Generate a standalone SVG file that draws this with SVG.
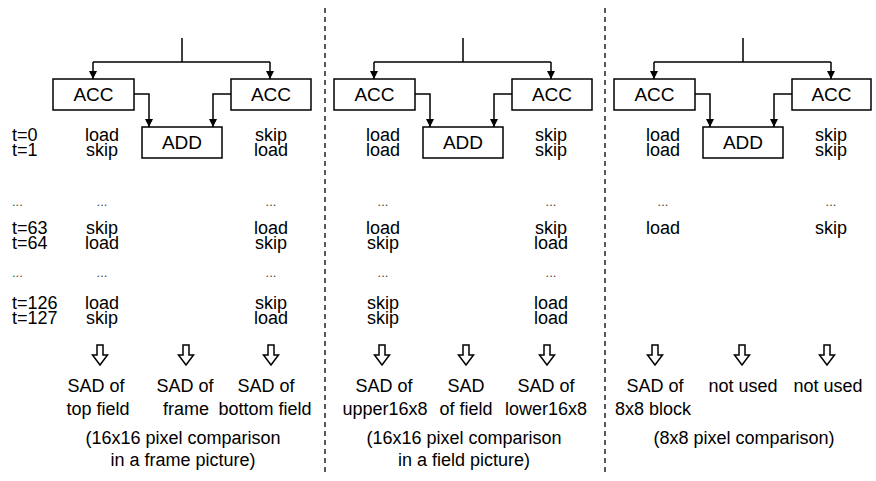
<svg xmlns="http://www.w3.org/2000/svg" width="876" height="481" viewBox="0 0 876 481">
<style>
text{font-family:"Liberation Sans",Arial,sans-serif;font-size:18px;fill:#000}
.m{text-anchor:middle}
.b{font-size:19px}
.d{font-size:13px;fill:#444}
.box rect{fill:#fff;stroke:#000;stroke-width:1.5}
.c{fill:none;stroke:#000;stroke-width:1.5}
.sep{stroke:#000;stroke-width:1.3;stroke-dasharray:5 4}
.ho{fill:#fff;stroke:#000;stroke-width:1.5;stroke-linejoin:miter}
</style>
<defs>
<marker id="ah" viewBox="0 0 10 10" refX="10" refY="5" markerWidth="8" markerHeight="8" markerUnits="userSpaceOnUse" orient="auto">
<path d="M0,0 L10,5 L0,10 z" fill="#000"/>
</marker>
<path id="ho" d="M-3,0 H3 V10 H7.5 L0,20 L-7.5,10 H-3 Z"/>
</defs>

<g id="separators">
<line class="sep" x1="325" y1="8" x2="325" y2="472"/>
<line class="sep" x1="605" y1="8" x2="605" y2="472"/>
</g>

<g id="connectors">
<path class="c" d="M182,38 V62 M93,62 H270"/>
<path class="c" d="M93,62 V79" marker-end="url(#ah)"/>
<path class="c" d="M270,62 V79" marker-end="url(#ah)"/>
<path class="c" d="M134,94 H149 V127" marker-end="url(#ah)"/>
<path class="c" d="M231,94 H213 V127" marker-end="url(#ah)"/>

<path class="c" d="M463,38 V62 M374,62 H551"/>
<path class="c" d="M374,62 V79" marker-end="url(#ah)"/>
<path class="c" d="M551,62 V79" marker-end="url(#ah)"/>
<path class="c" d="M415,94 H430 V127" marker-end="url(#ah)"/>
<path class="c" d="M512,94 H494 V127" marker-end="url(#ah)"/>

<path class="c" d="M743,38 V62 M654,62 H831"/>
<path class="c" d="M654,62 V79" marker-end="url(#ah)"/>
<path class="c" d="M831,62 V79" marker-end="url(#ah)"/>
<path class="c" d="M695,94 H710 V127" marker-end="url(#ah)"/>
<path class="c" d="M792,94 H774 V127" marker-end="url(#ah)"/>
</g>

<g id="p1-acc-left" class="box"><rect x="53" y="79" width="81" height="31"/><text class="m b" x="93.5" y="100.5">ACC</text></g>
<g id="p1-acc-right" class="box"><rect x="231" y="79" width="80" height="31"/><text class="m b" x="271" y="100.5">ACC</text></g>
<g id="p1-add" class="box"><rect x="142" y="127" width="80" height="31"/><text class="m b" x="182" y="148.5">ADD</text></g>

<g id="p2-acc-left" class="box"><rect x="334" y="79" width="81" height="31"/><text class="m b" x="374.5" y="100.5">ACC</text></g>
<g id="p2-acc-right" class="box"><rect x="512" y="79" width="80" height="31"/><text class="m b" x="552" y="100.5">ACC</text></g>
<g id="p2-add" class="box"><rect x="423" y="127" width="80" height="31"/><text class="m b" x="463" y="148.5">ADD</text></g>

<g id="p3-acc-left" class="box"><rect x="614" y="79" width="81" height="31"/><text class="m b" x="654.5" y="100.5">ACC</text></g>
<g id="p3-acc-right" class="box"><rect x="792" y="79" width="79" height="31"/><text class="m b" x="831.5" y="100.5">ACC</text></g>
<g id="p3-add" class="box"><rect x="703" y="127" width="80" height="31"/><text class="m b" x="743" y="148.5">ADD</text></g>

<g id="time-labels">
<text x="12" y="141">t=0<tspan x="12" dy="15">t=1</tspan></text>
<text class="d" x="12" y="206">...</text>
<text x="12" y="234">t=63<tspan x="12" dy="15">t=64</tspan></text>
<text class="d" x="12" y="277">...</text>
<text x="12" y="309">t=126<tspan x="12" dy="15">t=127</tspan></text>
</g>

<g id="p1-table">
<text class="m" x="102" y="141">load<tspan x="102" dy="15">skip</tspan></text>
<text class="m d" x="102" y="206">...</text>
<text class="m" x="102" y="234">skip<tspan x="102" dy="15">load</tspan></text>
<text class="m d" x="102" y="277">...</text>
<text class="m" x="102" y="309">load<tspan x="102" dy="15">skip</tspan></text>
<text class="m" x="271" y="141">skip<tspan x="271" dy="15">load</tspan></text>
<text class="m d" x="271" y="206">...</text>
<text class="m" x="271" y="234">load<tspan x="271" dy="15">skip</tspan></text>
<text class="m d" x="271" y="277">...</text>
<text class="m" x="271" y="309">skip<tspan x="271" dy="15">load</tspan></text>
</g>

<g id="p2-table">
<text class="m" x="383" y="141">load<tspan x="383" dy="15">load</tspan></text>
<text class="m d" x="383" y="206">...</text>
<text class="m" x="383" y="234">load<tspan x="383" dy="15">skip</tspan></text>
<text class="m d" x="383" y="277">...</text>
<text class="m" x="383" y="309">skip<tspan x="383" dy="15">skip</tspan></text>
<text class="m" x="551" y="141">skip<tspan x="551" dy="15">skip</tspan></text>
<text class="m d" x="551" y="206">...</text>
<text class="m" x="551" y="234">skip<tspan x="551" dy="15">load</tspan></text>
<text class="m d" x="551" y="277">...</text>
<text class="m" x="551" y="309">load<tspan x="551" dy="15">load</tspan></text>
</g>

<g id="p3-table">
<text class="m" x="663" y="141">load<tspan x="663" dy="15">load</tspan></text>
<text class="m d" x="663" y="206">...</text>
<text class="m" x="663" y="234">load</text>
<text class="m" x="831" y="141">skip<tspan x="831" dy="15">skip</tspan></text>
<text class="m d" x="831" y="206">...</text>
<text class="m" x="831" y="234">skip</text>
</g>

<g id="result-arrows" class="ho">
<use href="#ho" x="100" y="345"/>
<use href="#ho" x="186" y="345"/>
<use href="#ho" x="271" y="345"/>
<use href="#ho" x="382" y="345"/>
<use href="#ho" x="466" y="345"/>
<use href="#ho" x="547" y="345"/>
<use href="#ho" x="655" y="345"/>
<use href="#ho" x="742" y="345"/>
<use href="#ho" x="827" y="345"/>
</g>

<g id="p1-results">
<text class="m" x="96" y="392">SAD of</text>
<text class="m" x="98" y="415">top field</text>
<text class="m" x="185" y="392">SAD of</text>
<text class="m" x="186" y="415">frame</text>
<text class="m" x="266" y="392">SAD of</text>
<text class="m" x="265" y="415">bottom field</text>
<text class="m" x="183" y="444">(16x16 pixel comparison</text>
<text class="m" x="183" y="466">in a frame picture)</text>
</g>
<g id="p2-results">
<text class="m" x="384" y="392">SAD of</text>
<text class="m" x="385" y="415">upper16x8</text>
<text class="m" x="466" y="392">SAD</text>
<text class="m" x="466" y="415">of field</text>
<text class="m" x="546" y="392">SAD of</text>
<text class="m" x="546" y="415">lower16x8</text>
<text class="m" x="464" y="444">(16x16 pixel comparison</text>
<text class="m" x="464" y="466">in a field picture)</text>
</g>
<g id="p3-results">
<text class="m" x="655" y="392">SAD of</text>
<text class="m" x="653" y="415">8x8 block</text>
<text class="m" x="743" y="392">not used</text>
<text class="m" x="828" y="392">not used</text>
<text class="m" x="744" y="444">(8x8 pixel comparison)</text>
</g>
</svg>
